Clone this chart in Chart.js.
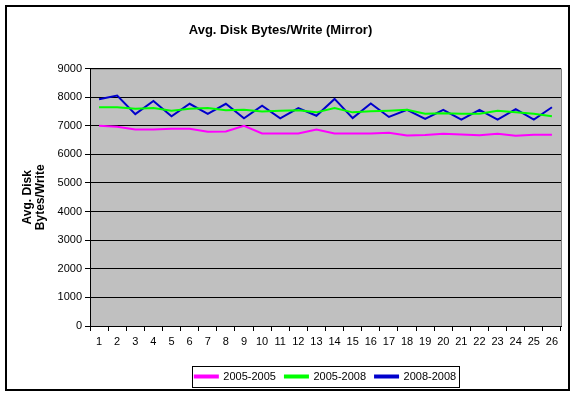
<!DOCTYPE html>
<html>
<head>
<meta charset="utf-8">
<script src="https://cdn.jsdelivr.net/npm/chart.js@4"></script>
<style>
  html, body { margin: 0; padding: 0; background: #fff; }
  #wrap { width: 577px; height: 397px; }
</style>
</head>
<body>
<div id="wrap"><canvas id="diskChart" width="577" height="397"></canvas></div>
<script>
const labels = ['1','2','3','4','5','6','7','8','9','10','11','12','13','14','15','16','17','18','19','20','21','22','23','24','25','26'];
const series2005 = [7000, 6970, 6870, 6870, 6900, 6900, 6790, 6800, 7000, 6730, 6730, 6730, 6870, 6730, 6730, 6730, 6760, 6660, 6680, 6720, 6700, 6670, 6720, 6650, 6690, 6690];
const series2005to2008 = [7650, 7650, 7600, 7620, 7530, 7600, 7620, 7540, 7560, 7500, 7530, 7540, 7470, 7620, 7470, 7510, 7530, 7560, 7420, 7440, 7420, 7420, 7530, 7470, 7420, 7330];
const series2008 = [7930, 8060, 7410, 7870, 7330, 7770, 7420, 7770, 7260, 7700, 7260, 7620, 7350, 7940, 7270, 7780, 7310, 7560, 7240, 7560, 7220, 7560, 7220, 7580, 7220, 7650];
const seriesNames = ['2005-2005', '2005-2008', '2008-2008'];

const FONT = 'Arial, "Liberation Sans", sans-serif';

// grey plot area, outer border, legend frame
const frame = {
    id: 'frame',
    beforeDraw(chart) {
        const ctx = chart.ctx;
        const a = chart.chartArea;
        ctx.save();
        ctx.fillStyle = '#fff';
        ctx.fillRect(0, 0, chart.width, chart.height);
        ctx.fillStyle = '#c0c0c0';
        ctx.fillRect(a.left, a.top, a.right - a.left, a.bottom - a.top);
        ctx.strokeStyle = '#808080';
        ctx.lineWidth = 1;
        ctx.strokeRect(a.left + 0.5, a.top + 0.5, a.right - a.left, a.bottom - a.top);
        ctx.strokeStyle = '#000';
        ctx.lineWidth = 2;
        ctx.strokeRect(6, 6, 563, 384);
        ctx.restore();
    },
    afterDraw(chart) {
        const boxes = chart.legend.legendHitBoxes;
        if (!boxes || !boxes.length) return;
        const first = boxes[0], last = boxes[boxes.length - 1];
        const ctx = chart.ctx;
        ctx.save();
        ctx.strokeStyle = '#000';
        ctx.lineWidth = 1;
        const x0 = Math.round(first.left) - 2.5;
        const x1 = Math.round(last.left + last.width) + 3.5;
        const y0 = Math.round(first.top) - 4.5;
        ctx.strokeRect(x0, y0, x1 - x0, 21);
        ctx.restore();
    }
};

new Chart(document.getElementById('diskChart'), {
    type: 'line',
    data: {
        labels: labels,
        datasets: [
            { label: seriesNames[0], data: series2005, borderColor: '#ff00ff', backgroundColor: '#ff00ff' },
            { label: seriesNames[1], data: series2005to2008, borderColor: '#00ff00', backgroundColor: '#00ff00' },
            { label: seriesNames[2], data: series2008, borderColor: '#0000cc', backgroundColor: '#0000cc' }
        ]
    },
    options: {
        responsive: false,
        animation: false,
        layout: { padding: { left: 0, right: 16, top: 0, bottom: 5 } },
        elements: {
            line: { borderWidth: 2, tension: 0 },
            point: { radius: 0 }
        },
        plugins: {
            title: {
                display: true,
                text: 'Avg. Disk Bytes/Write (Mirror)',
                color: '#000',
                font: { family: FONT, size: 13, weight: 'bold' },
                padding: { top: 23, bottom: 30 }
            },
            legend: {
                position: 'bottom',
                fullSize: false,
                labels: {
                    color: '#000',
                    font: { family: FONT, size: 11 },
                    boxWidth: 23,
                    boxHeight: 2,
                    padding: 9
                }
            },
            tooltip: { enabled: false }
        },
        scales: {
            x: {
                offset: true,
                grid: {
                    offset: true,
                    drawOnChartArea: false,
                    color: '#000',
                    tickLength: 5
                },
                border: { color: '#000' },
                ticks: {
                    color: '#000',
                    font: { family: FONT, size: 11 },
                    maxRotation: 0,
                    autoSkip: false,
                    padding: 4
                },
                afterFit(scale) { scale.height = 36; }
            },
            y: {
                min: 0,
                max: 9000,
                ticks: {
                    stepSize: 1000,
                    color: '#000',
                    font: { family: FONT, size: 11 },
                    padding: 3,
                    callback: v => String(v)
                },
                grid: { color: '#000', tickLength: 5 },
                border: { color: '#000' },
                title: {
                    display: true,
                    text: ['Avg. Disk', 'Bytes/Write'],
                    color: '#000',
                    font: { family: FONT, size: 12, weight: 'bold', lineHeight: 1.1 },
                    padding: { top: 21, bottom: 8 }
                },
                afterFit(scale) { scale.width = 90; }
            }
        }
    },
    plugins: [frame]
});
</script>
</body>
</html>
